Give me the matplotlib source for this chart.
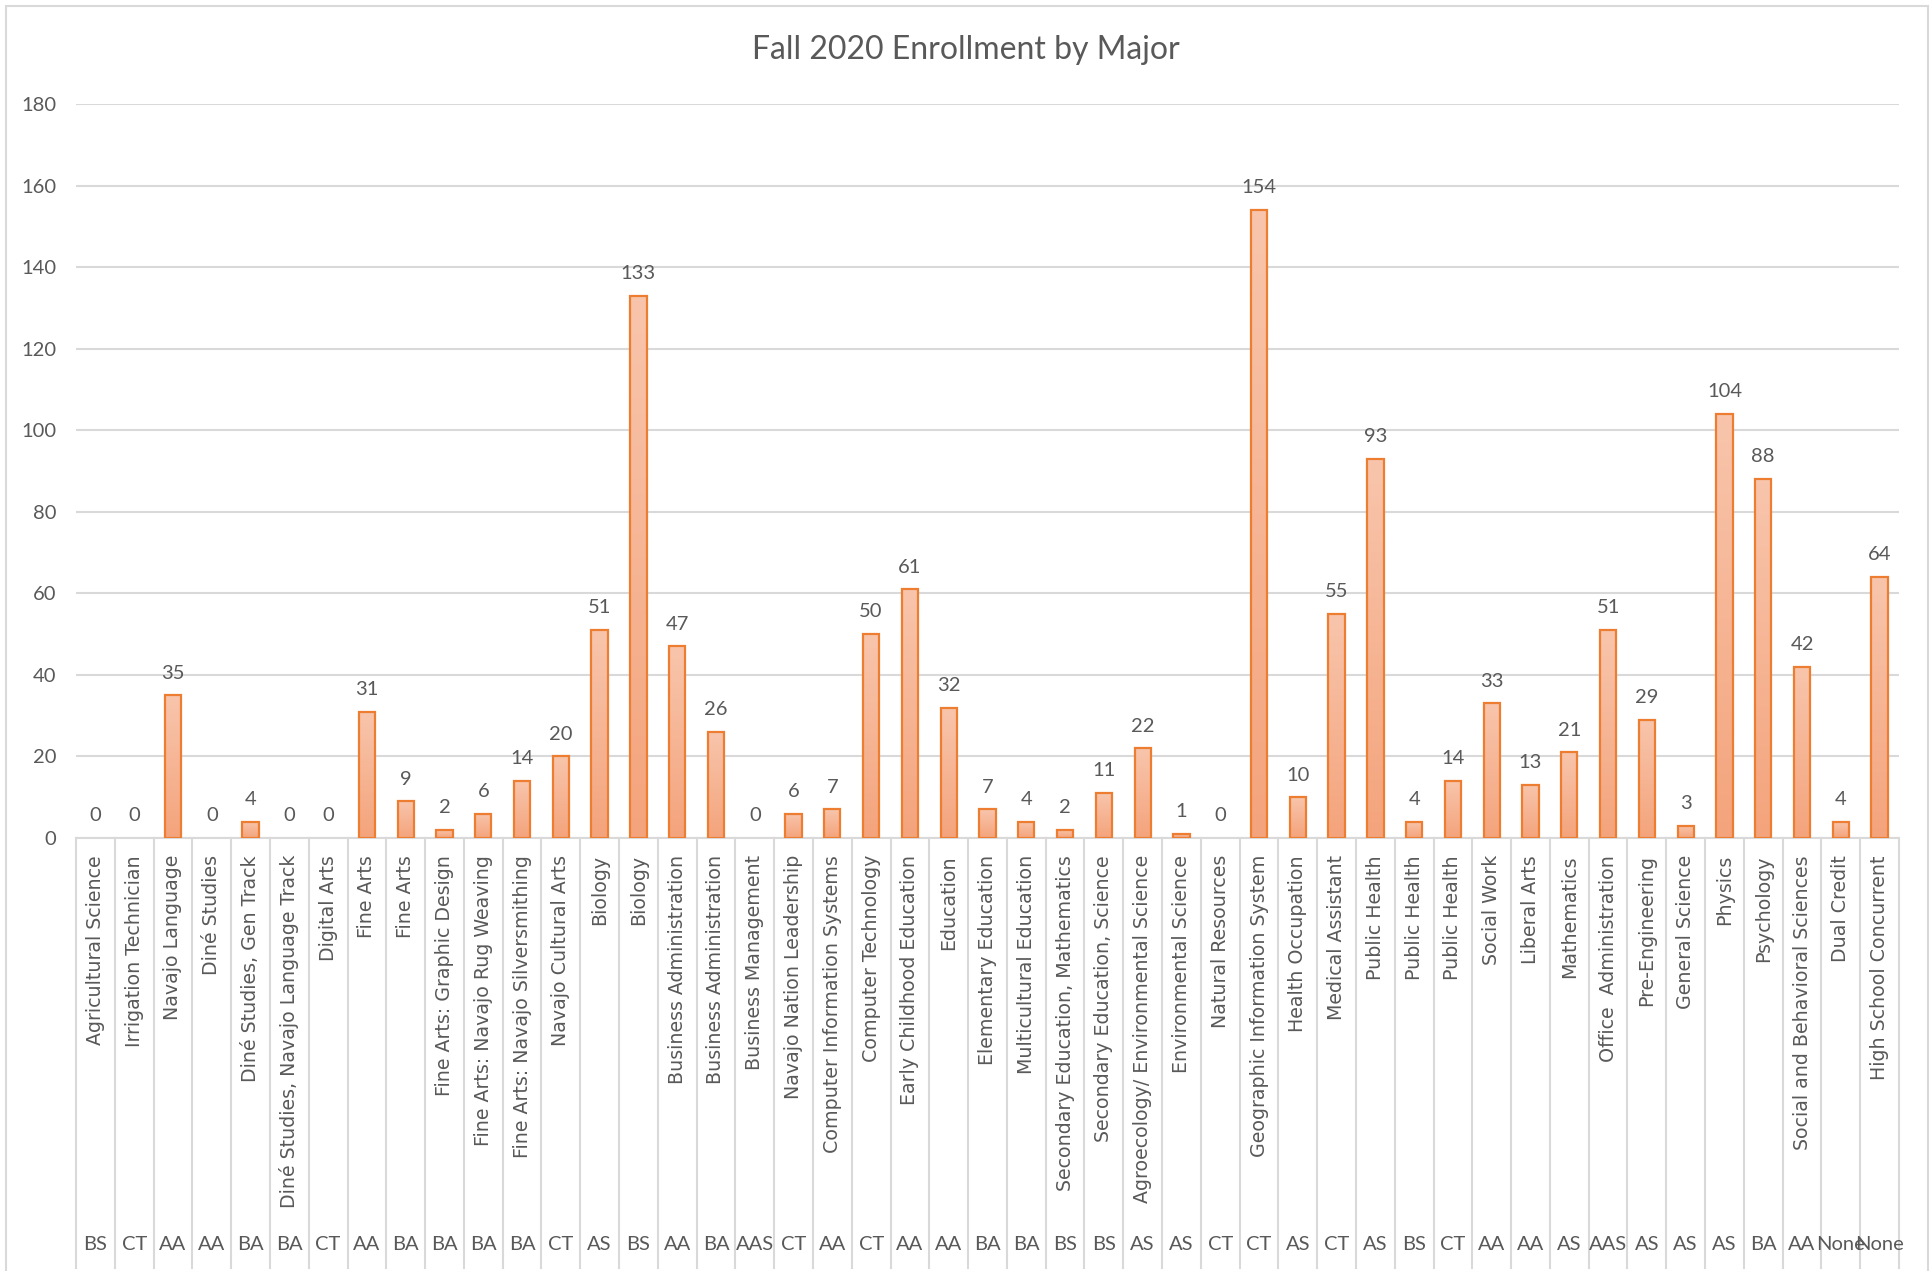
import numpy as np
import matplotlib
matplotlib.use("Agg")
import matplotlib.pyplot as plt
import matplotlib.transforms as mtransforms
from matplotlib.patches import Rectangle

# Fall 2020 enrollment by major / degree
majors = [
    "Agricultural Science", "Irrigation Technician", "Navajo Language", "Diné Studies",
    "Diné Studies, Gen Track", "Diné Studies, Navajo Language Track", "Digital Arts",
    "Fine Arts", "Fine Arts", "Fine Arts: Graphic Design", "Fine Arts: Navajo Rug Weaving",
    "Fine Arts: Navajo Silversmithing", "Navajo Cultural Arts", "Biology", "Biology",
    "Business Administration", "Business Administration", "Business Management",
    "Navajo Nation Leadership", "Computer Information Systems", "Computer Technology",
    "Early Childhood Education", "Education", "Elementary Education", "Multicultural Education",
    "Secondary Education, Mathematics", "Secondary Education, Science",
    "Agroecology/ Environmental Science", "Environmental Science", "Natural Resources",
    "Geographic Information System", "Health Occupation", "Medical Assistant", "Public Health",
    "Public Health", "Public Health", "Social Work", "Liberal Arts", "Mathematics",
    "Office  Administration", "Pre-Engineering", "General Science", "Physics", "Psychology",
    "Social and Behavioral Sciences", "Dual Credit", "High School Concurrent",
]
degrees = [
    "BS", "CT", "AA", "AA", "BA", "BA", "CT", "AA", "BA", "BA", "BA", "BA", "CT", "AS", "BS",
    "AA", "BA", "AAS", "CT", "AA", "CT", "AA", "AA", "BA", "BA", "BS", "BS", "AS", "AS", "CT",
    "CT", "AS", "CT", "AS", "BS", "CT", "AA", "AA", "AS", "AAS", "AS", "AS", "AS", "BA", "AA",
    "None", "None",
]
enrollment = [
    0, 0, 35, 0, 4, 0, 0, 31, 9, 2, 6, 14, 20, 51, 133, 47, 26, 0, 6, 7, 50, 61, 32, 7, 4,
    2, 11, 22, 1, 0, 154, 10, 55, 93, 4, 14, 33, 13, 21, 51, 29, 3, 104, 88, 42, 4, 64,
]

W, H = 1931, 1271
gray = "#595959"
grid = "#D9D9D9"
num_font = "Lato"

fig = plt.figure(figsize=(W / 100, H / 100), dpi=100)
left, right, y0, ytop = 76, 1899, 838, 104
ax = fig.add_axes([left / W, 1 - y0 / H, (right - left) / W, (y0 - ytop) / H])

x = np.arange(len(majors))
edge_cols = ["#ED7D31" if v > 0 else "none" for v in enrollment]
bars = ax.bar(x, enrollment, width=0.42, facecolor="none", edgecolor=edge_cols,
              linewidth=1.6, zorder=3)

# light vertical gradient inside each bar
grad = np.linspace(0, 1, 64).reshape(-1, 1)
cmap = matplotlib.colors.LinearSegmentedColormap.from_list("g", ["#F4A47C", "#F8C5AC"])
for b in bars:
    if b.get_height() <= 0:
        continue
    im = ax.imshow(grad, extent=[b.get_x(), b.get_x() + b.get_width(), 0, b.get_height()],
                   origin="lower", cmap=cmap, aspect="auto", zorder=2, interpolation="bilinear")
    im.set_clip_path(b)

ax.set_xlim(-0.5, len(majors) - 0.5)
ax.set_ylim(0, 180)
ax.set_yticks(np.arange(0, 181, 20))
ax.yaxis.grid(True, color=grid, linewidth=1.5)
ax.set_axisbelow(True)
ax.tick_params(axis="y", length=0, pad=14, labelcolor=gray, labelsize=14.5)
for lab in ax.get_yticklabels():
    lab.set_fontfamily(num_font)
ax.set_xticks([])
for s in ["top", "right", "left"]:
    ax.spines[s].set_visible(False)
ax.spines["bottom"].set_color(grid)
ax.spines["bottom"].set_linewidth(1.5)

# data labels
for xi, v in zip(x, enrollment):
    ax.annotate(str(v), (xi, v), xytext=(0, 12), textcoords="offset points",
                ha="center", va="baseline", fontsize=14.5, color=gray, fontfamily=num_font)

# two-level category axis
trans = mtransforms.blended_transform_factory(ax.transData, ax.transAxes)
span = y0 - ytop
bottom = -(1268 - y0) / span
for i in range(len(majors) + 1):
    ax.plot([i - 0.5, i - 0.5], [0, bottom], transform=trans, color=grid,
            linewidth=1.5, clip_on=False)
for xi, m, d in zip(x, majors, degrees):
    ax.text(xi, -(855 - y0) / span, m, transform=trans, rotation=90, ha="center", va="top",
            fontsize=13.7, color=gray, fontfamily="DejaVu Sans")
    ax.text(xi, -(1244 - y0) / span, d, transform=trans, ha="center", va="center",
            fontsize=14.5, color=gray, fontfamily=num_font)

fig.text(0.5, 1 - 50 / H, "Fall 2020 Enrollment by Major", ha="center", va="center",
         fontsize=23, color=gray, fontfamily=num_font)

# chart border
fig.patches.append(Rectangle((6 / W, -0.01), (W - 9) / W, 1 - 6 / H + 0.01,
                             transform=fig.transFigure, fill=False, edgecolor=grid,
                             linewidth=1.5))

fig.savefig("out.png", dpi=100)
